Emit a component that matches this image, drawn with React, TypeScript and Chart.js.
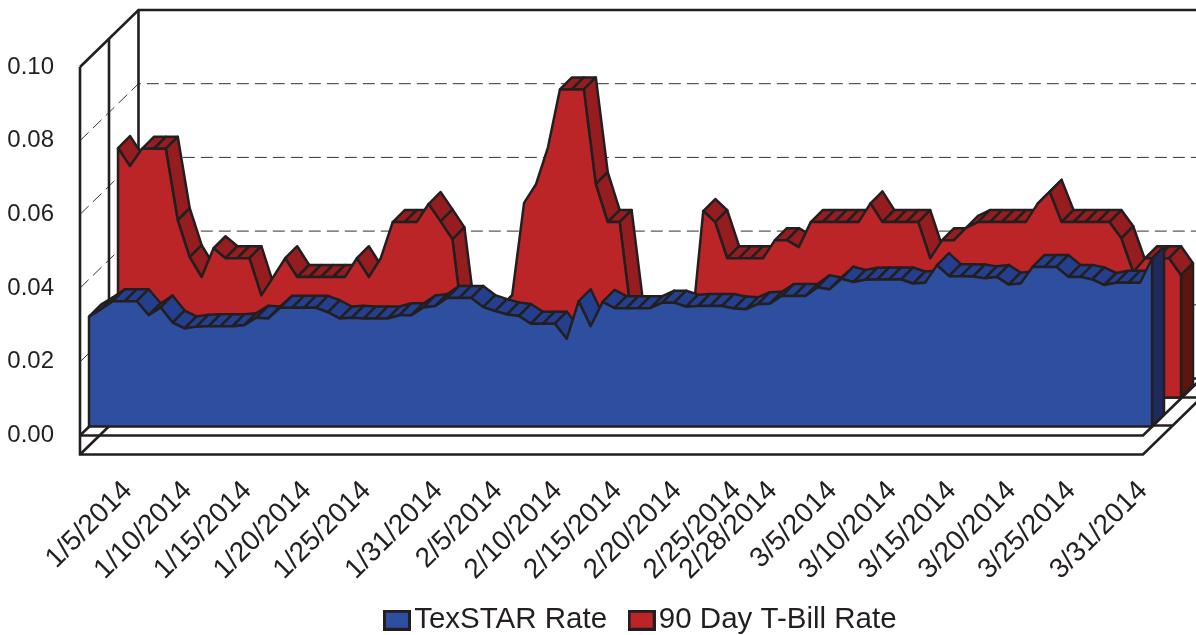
import React, { useEffect, useRef } from "react";
import { Chart, registerables } from "chart.js";

const categories = [
  "1/1/2014","1/2/2014","1/3/2014","1/4/2014","1/5/2014","1/6/2014","1/7/2014","1/8/2014","1/9/2014","1/10/2014",
  "1/11/2014","1/12/2014","1/13/2014","1/14/2014","1/15/2014","1/16/2014","1/17/2014","1/18/2014","1/19/2014","1/20/2014",
  "1/21/2014","1/22/2014","1/23/2014","1/24/2014","1/25/2014","1/26/2014","1/27/2014","1/28/2014","1/29/2014","1/30/2014","1/31/2014",
  "2/1/2014","2/2/2014","2/3/2014","2/4/2014","2/5/2014","2/6/2014","2/7/2014","2/8/2014","2/9/2014","2/10/2014",
  "2/11/2014","2/12/2014","2/13/2014","2/14/2014","2/15/2014","2/16/2014","2/17/2014","2/18/2014","2/19/2014","2/20/2014",
  "2/21/2014","2/22/2014","2/23/2014","2/24/2014","2/25/2014","2/26/2014","2/27/2014","2/28/2014",
  "3/1/2014","3/2/2014","3/3/2014","3/4/2014","3/5/2014","3/6/2014","3/7/2014","3/8/2014","3/9/2014","3/10/2014",
  "3/11/2014","3/12/2014","3/13/2014","3/14/2014","3/15/2014","3/16/2014","3/17/2014","3/18/2014","3/19/2014","3/20/2014",
  "3/21/2014","3/22/2014","3/23/2014","3/24/2014","3/25/2014","3/26/2014","3/27/2014","3/28/2014","3/29/2014","3/30/2014","3/31/2014",
];

const shownTicks = [
  "1/5/2014","1/10/2014","1/15/2014","1/20/2014","1/25/2014","1/31/2014","2/5/2014","2/10/2014","2/15/2014",
  "2/20/2014","2/25/2014","2/28/2014","3/5/2014","3/10/2014","3/15/2014","3/20/2014","3/25/2014","3/31/2014",
];

const texstarRate = [
  .0298,.0318,.0340,.0340,.0340,.0302,.0323,.0282,.0266,.0271,
  .0272,.0272,.0272,.0275,.0295,.0293,.0322,.0322,.0322,.0322,
  .0310,.0293,.0295,.0293,.0293,.0293,.0302,.0302,.0323,.0327,.0349,
  .0349,.0349,.0324,.0313,.0304,.0300,.0279,.0279,.0279,.0238,
  .0340,.0272,.0338,.0321,.0321,.0321,.0321,.0336,.0336,.0325,
  .0327,.0327,.0327,.0320,.0318,.0332,.0333,.0354,
  .0354,.0354,.0378,.0372,.0401,.0392,.0398,.0399,.0399,.0399,
  .0388,.0390,.0438,.0408,.0408,.0407,.0402,.0406,.0385,.0388,
  .0433,.0433,.0433,.0406,.0406,.0399,.0384,.0390,.0390,.0390,.0456,
];

const tBillRate = [
  .0677,.0628,.0675,.0675,.0675,.0481,.0381,.0327,.0405,.0378,
  .0378,.0378,.0277,.0327,.0378,.0327,.0327,.0327,.0327,.0327,
  .0378,.0327,.0378,.0476,.0476,.0476,.0525,.0478,.0429,.0171,.0170,
  .0200,.0245,.0277,.0528,.0579,.0679,.0836,.0836,.0836,.0579,
  .0476,.0476,.0215,.0180,.0180,.0180,.0180,.0175,.0506,.0476,
  .0378,.0378,.0378,.0378,.0427,.0427,.0408,.0476,
  .0476,.0476,.0476,.0476,.0527,.0476,.0476,.0476,.0476,
  .0378,.0427,.0427,.0460,.0476,.0476,.0476,.0476,.0476,
  .0526,.0558,.0476,.0476,.0476,.0476,.0476,.0432,.0340,.0378,.0378,.0378,.0332,
];

const seriesNames = ["TexSTAR Rate", "90 Day T-Bill Rate"];
const INK = "#231f20";
const FACE = ["#2e4f9f", "#bb2527"];
const SIDE = ["#243f8e", "#951c1f"];
const CAP = ["#1e2a5e", "#5c150d"];
const PLANE = [9, 38];
const EXTRUDE = 12;
const WALL_DX = 58.5;
const WALL_DY = 57;
const WALL_MID = 29;
const FLOOR = 19;
const LEGEND_SHIFT = 74;

const swatch = (fill: string) => {
  const c = document.createElement("canvas");
  c.width = 28;
  c.height = 21;
  const g = c.getContext("2d")!;
  g.fillStyle = fill;
  g.fillRect(0, 0, 28, 21);
  g.strokeStyle = INK;
  g.lineWidth = 3;
  g.strokeRect(1.5, 1.5, 25, 18);
  return c;
};

const line = (ctx: any, pts: number[][]) => {
  ctx.beginPath();
  pts.forEach((p, i) => (i ? ctx.lineTo(p[0], p[1]) : ctx.moveTo(p[0], p[1])));
  ctx.stroke();
};

const poly = (ctx: any, pts: number[][], fill: string) => {
  ctx.beginPath();
  pts.forEach((p, i) => (i ? ctx.lineTo(p[0], p[1]) : ctx.moveTo(p[0], p[1])));
  ctx.closePath();
  ctx.fillStyle = fill;
  ctx.fill();
  ctx.stroke();
};

const threeD = {
  id: "threeD",
  afterLayout(chart: any) {
    chart.legend.left += LEGEND_SHIFT;
    chart.legend.right += LEGEND_SHIFT;
    chart.scales.x.bottom += 30;
  },
  beforeDatasetsDraw(chart: any) {
    const { ctx, scales } = chart;
    const L = scales.x.left, R = scales.x.right, T = scales.y.top, B = scales.y.bottom;
    const X = WALL_DX, Y = WALL_DY, M = WALL_MID, F = FLOOR;
    ctx.save();
    ctx.lineCap = "butt";
    ctx.strokeStyle = "#333333";
    ctx.lineWidth = 1;
    ctx.setLineDash([12, 6]);
    [0.02, 0.04, 0.06, 0.08].forEach((v) => {
      const y = scales.y.getPixelForValue(v);
      line(ctx, [[L, y], [L + X, y - Y], [chart.width + 20, y - Y]]);
    });
    ctx.setLineDash([]);
    ctx.strokeStyle = INK;
    ctx.lineWidth = 2.6;
    line(ctx, [[L, T - 0], [L, B + F], [R, B + F], [R + X, B + F - Y]]);
    line(ctx, [[L, B], [R, B], [R + X, B - Y]]);
    line(ctx, [[L, T], [L + X, T - Y], [R + X, T - Y]]);
    line(ctx, [[L + M, T - M], [L + M, B + F - M]]);
    line(ctx, [[L + X, T - Y], [L + X, B - Y], [R + X, B - Y]]);
    line(ctx, [[L, B], [L + X, B - Y]]);
    line(ctx, [[L, B + F], [L + X, B + F - Y], [R + X, B + F - Y]]);
    line(ctx, [[L + M, B + F - M], [R + M, B + F - M]]);
    ctx.restore();
  },
  beforeDatasetDraw(chart: any, args: any) {
    const { ctx, scales } = chart;
    const i = args.index;
    const d = PLANE[i];
    const pts = args.meta.data.map((p: any) => [p.x + d, p.y - d]);
    const e = EXTRUDE;
    ctx.save();
    ctx.strokeStyle = INK;
    ctx.lineWidth = 2.5;
    ctx.lineJoin = "round";
    for (let k = 0; k < pts.length - 1; k++) {
      const a = pts[k], b = pts[k + 1];
      const facing = (b[1] - a[1]) > -(b[0] - a[0]);
      if (!facing) continue;
      poly(ctx, [a, b, [b[0] + e, b[1] - e], [a[0] + e, a[1] - e]], SIDE[i]);
    }
    const last = pts[pts.length - 1];
    const base = scales.y.getPixelForValue(0) - d;
    poly(ctx, [last, [last[0] + e, last[1] - e], [last[0] + e, base - e], [last[0], base]], CAP[i]);
    ctx.restore();
    ctx.save();
    ctx.translate(d, -d);
  },
  afterDatasetDraw(chart: any, args: any) {
    const { ctx, scales } = chart;
    const data = args.meta.data;
    const base = scales.y.getPixelForValue(0);
    const first = data[0], last = data[data.length - 1];
    ctx.strokeStyle = INK;
    ctx.lineWidth = 2.5;
    ctx.lineJoin = "round";
    line(ctx, [[first.x, first.y], [first.x, base], [last.x, base], [last.x, last.y]]);
    ctx.restore();
  },
};

Chart.register(threeD as any);
Chart.register(...registerables);

export default function App() {
  const ref = useRef<HTMLCanvasElement>(null);
  useEffect(() => {
    document.body.style.margin = "0";
    const chart = new Chart(ref.current!, {
      type: "line",
      data: {
        labels: categories,
        datasets: [
          { label: seriesNames[0], data: texstarRate, pointStyle: swatch(FACE[0]) as any },
          { label: seriesNames[1], data: tBillRate, pointStyle: swatch(FACE[1]) as any },
        ].map((s, i) => ({
          ...s,
          backgroundColor: FACE[i],
          borderColor: INK,
          borderWidth: 2.5,
          borderJoinStyle: "round" as const,
          fill: "origin",
          tension: 0,
          pointRadius: 0,
          clip: false as any,
        })),
      },
      options: {
        responsive: false,
        animation: false,
        layout: { padding: { top: 67, right: 53, left: 0, bottom: -10 } },
        scales: {
          x: {
            type: "category",
            offset: false,
            grid: { display: false },
            border: { display: false },
            afterFit: (s: any) => { s.height = 138; s.paddingRight = 0; s.paddingLeft = 0; },
            ticks: {
              autoSkip: false,
              minRotation: 45,
              maxRotation: 45,
              padding: 31,
              color: INK,
              font: { family: "'Liberation Sans', Arial", size: 28 },
              callback(this: any, v: any) {
                const t = this.getLabelForValue(v);
                return shownTicks.includes(t) ? t : "";
              },
            },
          },
          y: {
            min: 0,
            max: 0.1,
            grid: { display: false },
            border: { display: false },
            afterFit: (s: any) => { s.width = 80; },
            ticks: {
              stepSize: 0.02,
              padding: 18,
              color: INK,
              font: { family: "'Liberation Sans', Arial", size: 24 },
              callback: (v: any) => Number(v).toFixed(2),
            },
          },
        },
        plugins: {
          tooltip: { enabled: false },
          legend: {
            display: true,
            position: "bottom",
            labels: {
              usePointStyle: true,
              pointStyleWidth: 5,
              boxHeight: 20,
              padding: 32,
              color: INK,
              font: { family: "'Liberation Sans', Arial", size: 29.5 },
            },
          },
        },
      },
    } as any);
    return () => chart.destroy();
  }, []);
  return <canvas ref={ref} width={1196} height={635} style={{ display: "block" }} />;
}
